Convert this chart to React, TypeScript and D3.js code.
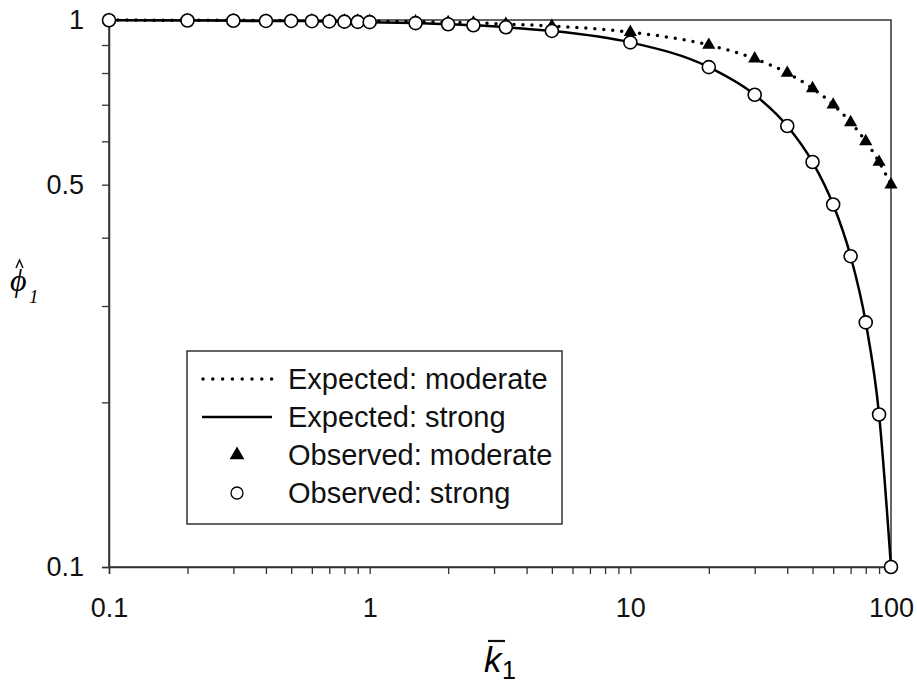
import React, { useEffect, useRef } from "react";
import * as d3 from "d3";

// k-bar values (x) shared by every series
const kValues = [0.1, 0.2, 0.3, 0.4, 0.5, 0.6, 0.7, 0.8, 0.9, 1, 1.5, 2, 2.5, 3.33, 5, 10, 20, 30, 40, 50, 60, 70, 80, 90, 100];

const expectedModerate = [1.0, 0.999, 0.999, 0.998, 0.998, 0.997, 0.997, 0.996, 0.996, 0.995, 0.993, 0.99, 0.988, 0.983, 0.975, 0.95, 0.9, 0.85, 0.8, 0.75, 0.7, 0.65, 0.6, 0.55, 0.5];
const expectedStrong = [0.999, 0.998, 0.997, 0.996, 0.996, 0.995, 0.994, 0.993, 0.992, 0.991, 0.987, 0.982, 0.978, 0.97, 0.955, 0.91, 0.82, 0.73, 0.64, 0.55, 0.46, 0.37, 0.28, 0.19, 0.1];
const observedModerate = [1.0, 0.999, 0.999, 0.998, 0.998, 0.997, 0.997, 0.996, 0.996, 0.995, 0.993, 0.99, 0.988, 0.983, 0.975, 0.95, 0.9, 0.85, 0.8, 0.75, 0.7, 0.65, 0.6, 0.55, 0.5];
const observedStrong = [0.999, 0.998, 0.997, 0.996, 0.996, 0.995, 0.994, 0.993, 0.992, 0.991, 0.987, 0.982, 0.978, 0.97, 0.955, 0.91, 0.82, 0.73, 0.64, 0.55, 0.46, 0.37, 0.28, 0.19, 0.1];

const xLabels = [0.1, 1, 10, 100];
const yLabels = [0.1, 0.5, 1];
const legendLabels = ["Expected: moderate", "Expected: strong", "Observed: moderate", "Observed: strong"];

const W = 917;
const H = 686;
const margin = { left: 109, right: 26, top: 20, bottom: 119 };
const sans = "'Liberation Sans', Arial, sans-serif";
const serif = "'Liberation Serif', 'Times New Roman', serif";

const App = () => {
  const ref = useRef<SVGSVGElement>(null);

  useEffect(() => {
    const svg = d3.select(ref.current);
    svg.selectAll("*").remove();

    const x = d3.scaleLog().domain([0.1, 100]).range([margin.left, W - margin.right]);
    const y = d3.scaleLog().domain([0.1, 1]).range([H - margin.bottom, margin.top]);

    const fmt = (d: number) => (xLabels.includes(d) ? String(d) : "");
    const fmtY = (d: number) => (yLabels.some(v => Math.abs(v - d) < 1e-9) ? String(+d.toFixed(1)) : "");

    // frame
    svg
      .append("rect")
      .attr("x", margin.left)
      .attr("y", margin.top)
      .attr("width", W - margin.left - margin.right)
      .attr("height", H - margin.top - margin.bottom)
      .attr("fill", "none")
      .attr("stroke", "#333")
      .attr("stroke-width", 1.5);

    const xAxis = svg
      .append("g")
      .attr("transform", `translate(0 ${H - margin.bottom})`)
      .call(d3.axisBottom(x).tickSize(7).tickPadding(24).tickFormat(fmt as any));
    const yAxis = svg
      .append("g")
      .attr("transform", `translate(${margin.left} 0)`)
      .call(
        d3
          .axisLeft(y)
          .tickValues(d3.range(1, 11).map(v => v / 10))
          .tickSize(7)
          .tickPadding(18)
          .tickFormat(fmtY as any)
      );

    [xAxis, yAxis].forEach(g => {
      g.select(".domain").attr("stroke", "#333").attr("stroke-width", 1.5);
      g.selectAll(".tick line").attr("stroke", "#333").attr("stroke-width", 1.3);
      g.selectAll(".tick text")
        .attr("font-family", sans)
        .attr("font-size", 27)
        .attr("fill", "#111");
    });

    const pts = (vals: number[]) => kValues.map((k, i) => [k, vals[i]] as [number, number]);
    const line = d3
      .line<[number, number]>()
      .x(d => x(d[0]))
      .y(d => y(d[1]))
      .curve(d3.curveMonotoneX);

    svg
      .append("path")
      .attr("d", line(pts(expectedModerate)))
      .attr("fill", "none")
      .attr("stroke", "#000")
      .attr("stroke-width", 3.5)
      .attr("stroke-linecap", "round")
      .attr("stroke-dasharray", "0 9");

    svg
      .append("path")
      .attr("d", line(pts(expectedStrong)))
      .attr("fill", "none")
      .attr("stroke", "#000")
      .attr("stroke-width", 2.5);

    const tri = d3.symbol().type(d3.symbolTriangle).size(75);
    svg
      .append("g")
      .selectAll("path")
      .data(pts(observedModerate))
      .join("path")
      .attr("d", tri)
      .attr("transform", d => `translate(${x(d[0])} ${y(d[1])})`)
      .attr("fill", "#000");

    svg
      .append("g")
      .selectAll("circle")
      .data(pts(observedStrong))
      .join("circle")
      .attr("cx", d => x(d[0]))
      .attr("cy", d => y(d[1]))
      .attr("r", 6.5)
      .attr("fill", "#fff")
      .attr("stroke", "#000")
      .attr("stroke-width", 1.6);

    // legend
    const lg = svg.append("g");
    lg.append("rect")
      .attr("x", 187)
      .attr("y", 351)
      .attr("width", 375)
      .attr("height", 173)
      .attr("fill", "#fff")
      .attr("stroke", "#333")
      .attr("stroke-width", 1.5);

    legendLabels.forEach((label, i) => {
      const cy = 379 + i * 38;
      if (i === 0) {
        lg.append("line")
          .attr("x1", 203).attr("x2", 272).attr("y1", cy).attr("y2", cy)
          .attr("stroke", "#000").attr("stroke-width", 3.5)
          .attr("stroke-linecap", "round").attr("stroke-dasharray", "0 9.8");
      } else if (i === 1) {
        lg.append("line")
          .attr("x1", 202).attr("x2", 272).attr("y1", cy).attr("y2", cy)
          .attr("stroke", "#000").attr("stroke-width", 2.5);
      } else if (i === 2) {
        lg.append("path")
          .attr("d", d3.symbol().type(d3.symbolTriangle).size(95)())
          .attr("transform", `translate(237 ${cy})`)
          .attr("fill", "#000");
      } else {
        lg.append("circle")
          .attr("cx", 237).attr("cy", cy).attr("r", 6)
          .attr("fill", "#fff").attr("stroke", "#000").attr("stroke-width", 1.3);
      }
      lg.append("text")
        .attr("x", 288)
        .attr("y", cy + 10)
        .attr("font-family", sans)
        .attr("font-size", 29)
        .attr("fill", "#111")
        .text(label);
    });

    // y axis title: phi hat sub 1
    const yt = svg.append("g");
    yt.append("text")
      .attr("x", 10).attr("y", 291)
      .attr("font-family", serif).attr("font-style", "italic").attr("font-size", 32)
      .text("ϕ");
    yt.append("path")
      .attr("d", "M16,268 L19.5,260 L23,268")
      .attr("fill", "none")
      .attr("stroke", "#111")
      .attr("stroke-width", 1.5);
    yt.append("text")
      .attr("x", 29).attr("y", 303)
      .attr("font-family", serif).attr("font-style", "italic").attr("font-size", 19)
      .text("1");

    // x axis title: k bar sub 1
    const xt = svg.append("g");
    xt.append("text")
      .attr("x", 484).attr("y", 672)
      .attr("font-family", sans).attr("font-style", "italic").attr("font-size", 35)
      .text("k");
    xt.append("line")
      .attr("x1", 488).attr("x2", 505).attr("y1", 641).attr("y2", 641)
      .attr("stroke", "#111").attr("stroke-width", 2.2);
    xt.append("text")
      .attr("x", 502).attr("y", 679)
      .attr("font-family", sans).attr("font-size", 25)
      .text("1");
  }, []);

  return (
    <svg
      ref={ref}
      width={W}
      height={H}
      style={{ position: "absolute", left: 0, top: 0, background: "#fff" }}
    />
  );
};

export default App;
